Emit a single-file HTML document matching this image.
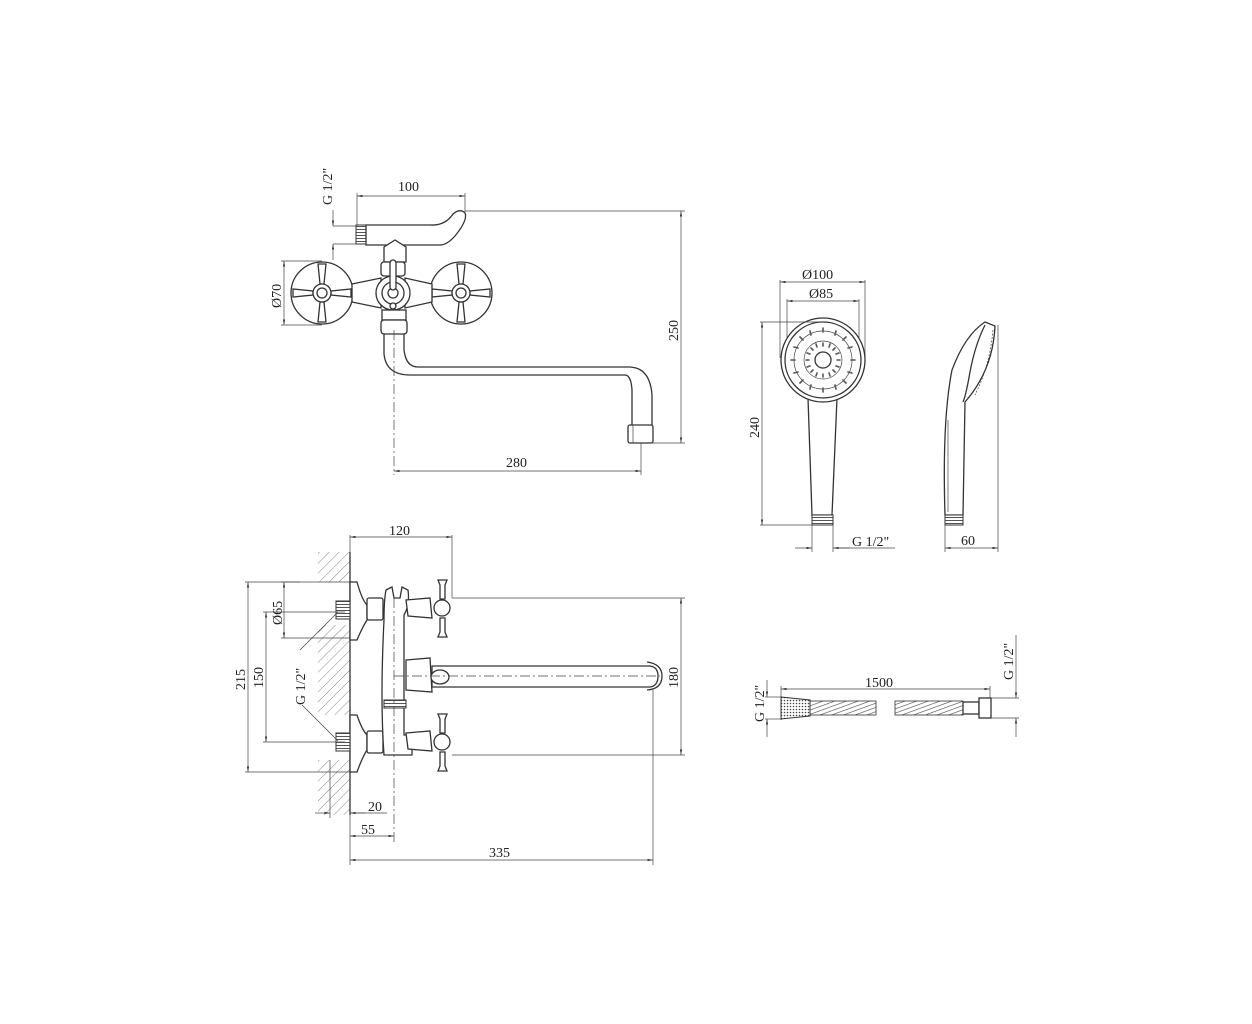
<!DOCTYPE html>
<html><head><meta charset="utf-8"><style>
html,body{margin:0;padding:0;background:#fff}
svg{display:block}
text{font-family:"Liberation Serif",serif;font-size:14px;fill:#222}
.l{stroke:#333;stroke-width:1.3;fill:none}
.t{stroke:#444;stroke-width:0.7;fill:none}
.f{stroke:#333;stroke-width:1.3;fill:#fff}
.h{stroke:#555;stroke-width:0.7}
</style></head><body>
<svg width="1252" height="1024" viewBox="0 0 1252 1024" xmlns="http://www.w3.org/2000/svg">
<defs>
<marker id="a" viewBox="0 0 10 10" refX="10" refY="5" markerWidth="8" markerHeight="8" orient="auto-start-reverse"><path d="M0,3 L10,5 L0,7z" fill="#333"/></marker>
<pattern id="hat" width="7" height="7" patternUnits="userSpaceOnUse" patternTransform="rotate(45)"><line x1="0" y1="0" x2="0" y2="7" stroke="#666" stroke-width="0.8"/></pattern>
<pattern id="thr" width="3" height="3" patternUnits="userSpaceOnUse"><rect width="3" height="3" fill="#fff"/><line x1="0" y1="1.5" x2="3" y2="1.5" stroke="#555" stroke-width="1"/></pattern>
<pattern id="coil" width="4" height="4" patternUnits="userSpaceOnUse" patternTransform="rotate(70)"><line x1="0" y1="0" x2="0" y2="4" stroke="#444" stroke-width="1.2"/></pattern>
<pattern id="dots" width="3" height="3" patternUnits="userSpaceOnUse"><circle cx="1.5" cy="1.5" r="0.8" fill="#444"/></pattern>
</defs>

<!-- ===== TOP VIEW ===== -->
<g>
<text transform="translate(332,205) rotate(-90)">G 1/2"</text>
<line class="t" x1="333" y1="210" x2="333" y2="226" marker-end="url(#a)"/>
<line class="t" x1="333" y1="260" x2="333" y2="244" marker-end="url(#a)"/>
<line class="t" x1="333" y1="226" x2="357" y2="226"/>
<line class="t" x1="333" y1="244" x2="357" y2="244"/>
<text x="398" y="191">100</text>
<line class="t" x1="357" y1="196" x2="465" y2="196" marker-start="url(#a)" marker-end="url(#a)"/>
<line class="t" x1="357" y1="193" x2="357" y2="226"/>
<line class="t" x1="465" y1="193" x2="465" y2="212"/>
<line class="t" x1="465" y1="211" x2="685" y2="211"/>
<line class="t" x1="681" y1="211" x2="681" y2="443" marker-start="url(#a)" marker-end="url(#a)"/>
<line class="t" x1="652" y1="443" x2="685" y2="443"/>
<text transform="translate(678,341) rotate(-90)">250</text>
<!-- top handle -->
<rect x="356" y="225" width="10" height="19" fill="url(#thr)" stroke="#333"/>
<path class="f" d="M366,225 L430,225 Q445,226 453,214 Q460,208 465,213 Q468,220 455,236 Q447,245 440,245 L366,245 Z"/>
<path class="f" d="M384,247 L395,240 L406,247 L406,262 L384,262 Z"/>
<rect class="f" x="381" y="262" width="24" height="14" rx="3"/>
<!-- wheels -->
<g id="wh">
<circle class="f" cx="322" cy="293" r="31"/>
<path class="f" d="M318,264 h8 l-2,20 h-4z M318,322 h8 l-2,-20 h-4z M293,289 v8 l20,-2 v-4z M351,289 v8 l-20,-2 v-4z"/>
<circle class="f" cx="322" cy="293" r="9"/>
<circle class="l" cx="322" cy="293" r="5"/>
</g>
<use href="#wh" x="139"/>
<path class="f" d="M352,284 L381,278 L381,308 L352,302z M432,284 L405,278 L405,308 L432,302z"/>
<circle class="f" cx="393" cy="293" r="17"/>
<circle class="l" cx="393" cy="293" r="11"/>
<circle class="l" cx="393" cy="293" r="5"/>
<rect class="f" x="390" y="260" width="6" height="30" rx="3"/>
<circle class="f" cx="393" cy="306" r="3"/>
<rect class="f" x="382" y="310" width="24" height="10"/>
<rect class="f" x="381" y="320" width="26" height="14" rx="3"/>
<!-- spout -->
<path class="l" d="M384,334 L384,354 Q386,375 410,375 L625,375 Q631,375 632,390 L632,425"/>
<path class="l" d="M404,334 L404,350 Q406,367 418,367 L630,367 Q650,368 652,395 L652,425"/>
<rect class="f" x="628" y="425" width="25" height="18" rx="2"/>
<line class="t" x1="633" y1="425" x2="633" y2="443"/>
<line class="t" x1="394" y1="330" x2="394" y2="475" stroke-dasharray="10,3,2,3"/>
<line class="t" x1="641" y1="443" x2="641" y2="475"/>
<line class="t" x1="394" y1="471" x2="641" y2="471" marker-start="url(#a)" marker-end="url(#a)"/>
<text x="506" y="467">280</text>
<!-- Ø70 -->
<line class="t" x1="281" y1="261" x2="322" y2="261"/>
<line class="t" x1="281" y1="325" x2="322" y2="325"/>
<line class="t" x1="284" y1="261" x2="284" y2="325" marker-start="url(#a)" marker-end="url(#a)"/>
<text transform="translate(281,308) rotate(-90)">Ø70</text>
</g>

<!-- ===== BOTTOM VIEW ===== -->
<g>
<text x="389" y="535">120</text>
<line class="t" x1="350" y1="537" x2="452" y2="537" marker-start="url(#a)" marker-end="url(#a)"/>
<line class="t" x1="350" y1="535" x2="350" y2="582"/>
<line class="t" x1="452" y1="535" x2="452" y2="598"/>
<!-- wall hatching -->
<rect x="318" y="552" width="32" height="30" fill="url(#hat)"/>
<rect x="318" y="625" width="32" height="90" fill="url(#hat)"/>
<rect x="318" y="760" width="32" height="55" fill="url(#hat)"/>
<line class="l" x1="350" y1="552" x2="350" y2="815"/>
<!-- flanges -->
<path class="f" d="M350,582 L357,582 Q362,600 367,605 L367,620 Q362,628 357,640 L350,640z"/>
<path class="f" d="M350,715 L357,715 Q362,730 367,735 L367,750 Q362,758 357,772 L350,772z"/>
<rect x="336" y="601" width="14" height="18" fill="url(#thr)" stroke="#333"/>
<rect x="336" y="733" width="14" height="18" fill="url(#thr)" stroke="#333"/>
<rect class="f" x="367" y="598" width="16" height="22" rx="2"/>
<rect class="f" x="367" y="731" width="16" height="22" rx="2"/>
<!-- body -->
<path class="f" d="M384,620 Q384,600 386,590 L392,587 L394,598 L400,598 L402,587 L408,590 Q410,605 404,615 L404,735 L412,735 L412,755 L384,755 Q380,700 384,620z"/>
<rect x="384" y="700" width="22" height="8" fill="url(#thr)" stroke="#333"/>
<path class="f" d="M406,600 L430,598 L432,618 L408,616z"/>
<path class="f" d="M406,733 L430,731 L432,751 L408,749z"/>
<path class="f" d="M406,660 L430,658 L432,692 L406,690z"/>
<!-- cross handles -->
<g id="ch">
<path class="f" d="M438,580 h9 l-2,5 v14 h-5 v-14z M438,637 h9 l-2,-5 v-14 h-5 v14z"/>
<circle class="f" cx="442" cy="608" r="8"/>
</g>
<use href="#ch" y="134"/>
<!-- spout -->
<path class="f" d="M432,666 L650,666 Q658,667 658,676 Q658,686 650,687 L432,687z"/>
<path class="l" d="M647,662 Q662,664 662,676 Q662,689 647,690"/>
<ellipse class="f" cx="440" cy="677" rx="9" ry="7"/>
<line class="t" x1="394" y1="598" x2="394" y2="845" stroke-dasharray="10,3,2,3"/>
<line class="t" x1="394" y1="676" x2="660" y2="676" stroke-dasharray="10,3,2,3"/>
<!-- dims -->
<line class="t" x1="452" y1="598" x2="685" y2="598"/>
<line class="t" x1="452" y1="755" x2="685" y2="755"/>
<line class="t" x1="681" y1="598" x2="681" y2="755" marker-start="url(#a)" marker-end="url(#a)"/>
<text transform="translate(678,688) rotate(-90)">180</text>
<line class="t" x1="245" y1="582" x2="350" y2="582"/>
<line class="t" x1="245" y1="772" x2="350" y2="772"/>
<line class="t" x1="248" y1="582" x2="248" y2="772" marker-start="url(#a)" marker-end="url(#a)"/>
<text transform="translate(245,690) rotate(-90)">215</text>
<line class="t" x1="263" y1="612" x2="345" y2="612"/>
<line class="t" x1="263" y1="742" x2="345" y2="742"/>
<line class="t" x1="266" y1="612" x2="266" y2="742" marker-start="url(#a)" marker-end="url(#a)"/>
<text transform="translate(263,688) rotate(-90)">150</text>
<line class="t" x1="281" y1="582" x2="300" y2="582"/>
<line class="t" x1="281" y1="638" x2="350" y2="638"/>
<line class="t" x1="284" y1="582" x2="284" y2="638" marker-start="url(#a)" marker-end="url(#a)"/>
<text transform="translate(282,625) rotate(-90)">Ø65</text>
<text transform="translate(305,705) rotate(-90)">G 1/2"</text>
<path class="t" d="M338,612 L302,648 L300,650"/>
<path class="t" d="M338,741 L302,705"/>
<line class="t" x1="330" y1="760" x2="330" y2="818"/>
<line class="t" x1="315" y1="813" x2="330" y2="813" marker-end="url(#a)"/>
<line class="t" x1="365" y1="813" x2="350" y2="813" marker-end="url(#a)"/>
<line class="t" x1="350" y1="813" x2="387" y2="813"/>
<text x="368" y="811">20</text>
<line class="t" x1="350" y1="815" x2="350" y2="865"/>
<line class="t" x1="350" y1="836" x2="394" y2="836" marker-start="url(#a)" marker-end="url(#a)"/>
<text x="361" y="834">55</text>
<line class="t" x1="653" y1="690" x2="653" y2="865"/>
<line class="t" x1="350" y1="860" x2="653" y2="860" marker-start="url(#a)" marker-end="url(#a)"/>
<text x="489" y="857">335</text>
</g>

<!-- ===== SHOWER FRONT ===== -->
<g>
<text x="802" y="279">Ø100</text>
<line class="t" x1="780" y1="282" x2="865" y2="282" marker-start="url(#a)" marker-end="url(#a)"/>
<line class="t" x1="780" y1="280" x2="780" y2="358"/>
<line class="t" x1="865" y1="280" x2="865" y2="358"/>
<text x="809" y="298">Ø85</text>
<line class="t" x1="787" y1="301" x2="859" y2="301" marker-start="url(#a)" marker-end="url(#a)"/>
<line class="t" x1="787" y1="299" x2="787" y2="340"/>
<line class="t" x1="859" y1="299" x2="859" y2="340"/>
<path class="f" d="M808,398 L812,515 L832,515 L837,398"/>
<circle class="f" cx="823" cy="360" r="42"/>
<circle class="l" cx="823" cy="360" r="38"/>
<circle class="t" cx="823" cy="360" r="29"/>
<circle class="t" cx="823" cy="360" r="19"/>
<circle class="f" cx="823" cy="360" r="8"/>
<g stroke="#555" stroke-width="1.6" stroke-linecap="round">
<path d="M823,328v4M823,388v4M791,360h4M851,360h4M800,337l3,3M843,380l3,3M846,337l-3,3M800,383l3,-3M810,331l1,4M836,331l-1,4M810,389l1,-4M836,389l-1,-4M794,347l4,1M852,347l-4,1M794,373l4,-1M852,373l-4,-1M823,343v3M823,374v3M806,360h3M837,360h3M811,348l2,2M835,372l-2,-2M835,348l-2,2M811,372l2,-2M816,344l1,3M830,344l-1,3M816,376l1,-3M830,376l-1,-3M807,353l3,1M839,353l-3,1M807,367l3,-1M839,367l-3,-1"/>
</g>
<rect x="812" y="515" width="21" height="10" fill="url(#thr)" stroke="#333"/>
<line class="t" x1="760" y1="322" x2="823" y2="322"/>
<line class="t" x1="760" y1="525" x2="812" y2="525"/>
<line class="t" x1="762" y1="322" x2="762" y2="525" marker-start="url(#a)" marker-end="url(#a)"/>
<text transform="translate(759,438) rotate(-90)">240</text>
<line class="t" x1="812" y1="525" x2="812" y2="552"/>
<line class="t" x1="833" y1="525" x2="833" y2="552"/>
<line class="t" x1="795" y1="548" x2="812" y2="548" marker-end="url(#a)"/>
<line class="t" x1="850" y1="548" x2="833" y2="548" marker-end="url(#a)"/>
<line class="t" x1="833" y1="548" x2="895" y2="548"/>
<text x="852" y="546">G 1/2"</text>
</g>

<!-- ===== SHOWER SIDE ===== -->
<g>
<path class="f" d="M985,322 L995,326 Q993,370 965,402 L963,515 L945,515 Q942,420 952,370 Q965,335 985,322z"/>
<path class="l" d="M985,325 Q975,345 970,372 Q966,395 963,402"/>
<path class="t" d="M993,330 Q990,365 975,395" stroke-dasharray="2,1.5" stroke-width="2"/>
<line class="t" x1="948" y1="420" x2="948" y2="512"/>
<rect x="945" y="515" width="18" height="10" fill="url(#thr)" stroke="#333"/>
<line class="t" x1="998" y1="325" x2="998" y2="552"/>
<line class="t" x1="945" y1="525" x2="945" y2="552"/>
<line class="t" x1="945" y1="548" x2="998" y2="548" marker-start="url(#a)" marker-end="url(#a)"/>
<text x="961" y="545">60</text>
</g>

<!-- ===== HOSE ===== -->
<g>
<text x="865" y="687">1500</text>
<line class="t" x1="781" y1="689" x2="990" y2="689" marker-start="url(#a)" marker-end="url(#a)"/>
<line class="t" x1="781" y1="686" x2="781" y2="720"/>
<line class="t" x1="990" y1="686" x2="990" y2="698"/>
<path d="M781,697 L810,700 L810,716 L781,719z" fill="url(#dots)" stroke="#333"/>
<rect x="810" y="701" width="66" height="14" fill="url(#coil)" stroke="#333" stroke-width="0.8"/>
<rect x="895" y="701" width="68" height="14" fill="url(#coil)" stroke="#333" stroke-width="0.8"/>
<rect class="f" x="963" y="702" width="16" height="12"/>
<rect class="f" x="979" y="698" width="12" height="20"/>
<line class="t" x1="765" y1="697" x2="781" y2="697"/>
<line class="t" x1="765" y1="719" x2="781" y2="719"/>
<line class="t" x1="767" y1="680" x2="767" y2="697" marker-end="url(#a)"/>
<line class="t" x1="767" y1="737" x2="767" y2="719" marker-end="url(#a)"/>
<text transform="translate(764,722) rotate(-90)">G 1/2"</text>
<line class="t" x1="991" y1="698" x2="1019" y2="698"/>
<line class="t" x1="991" y1="718" x2="1019" y2="718"/>
<line class="t" x1="1016" y1="635" x2="1016" y2="698" marker-end="url(#a)"/>
<line class="t" x1="1016" y1="737" x2="1016" y2="718" marker-end="url(#a)"/>
<text transform="translate(1013,680) rotate(-90)">G 1/2"</text>
</g>
</svg>
</body></html>
